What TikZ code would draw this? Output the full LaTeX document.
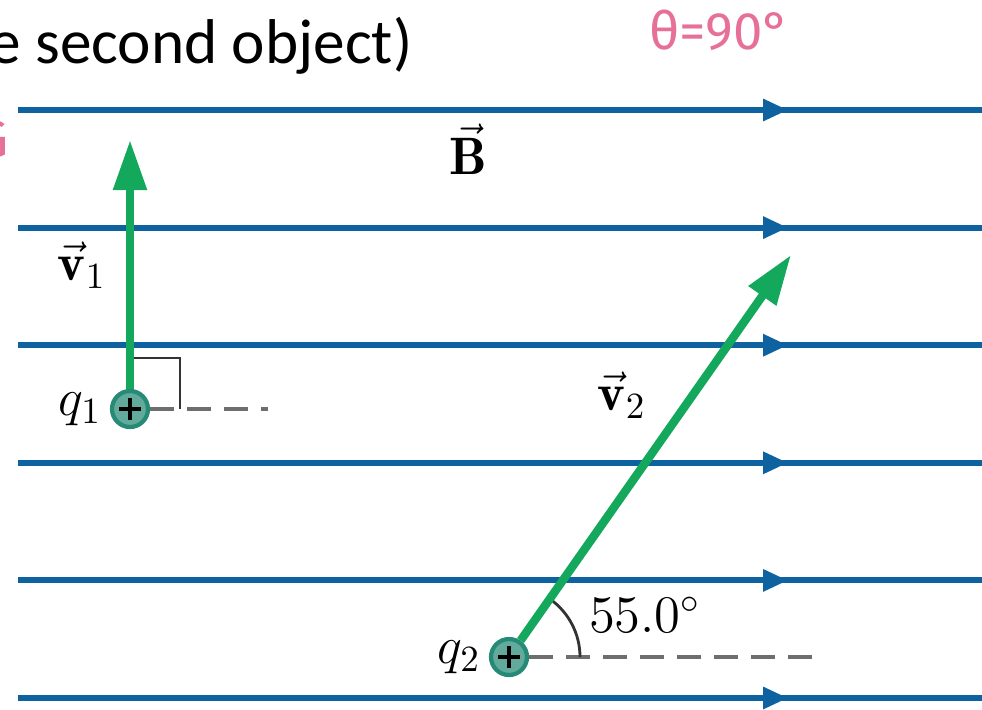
\RequirePackage{fix-cm}
\documentclass[tikz,border=0pt]{standalone}
\usepackage{fontspec}
\usepackage{amsmath,bm}
\usepackage{xcolor}
\usetikzlibrary{arrows.meta}
\usetikzlibrary{positioning}
\newfontfamily\calibri{Carlito}
\newfontfamily\hand{Fira Sans}
\definecolor{fieldblue}{RGB}{14,98,160}
\definecolor{velgreen}{RGB}{20,168,92}
\definecolor{chargefill}{RGB}{98,170,156}
\definecolor{chargeedge}{RGB}{38,138,118}
\definecolor{guidegray}{RGB}{110,110,110}
\definecolor{inkpink}{RGB}{230,112,152}

\begin{document}
\begin{tikzpicture}[
  field/.style={line width=1.7pt,fieldblue},
  vel/.style={line width=2.4pt,velgreen,-{Triangle[length=0.5cm,width=0.32cm]}},
  charge/.style={circle,draw=chargeedge,fill=chargefill,line width=1.2pt,
    minimum size=0.36cm,inner sep=0pt,
    path picture={\draw[black,line width=1.3pt]
      (path picture bounding box.center) +(-0.11,0) -- +(0.11,0)
      (path picture bounding box.center) +(0,-0.11) -- +(0,0.11);}},
  lbl/.style={font=\fontsize{15}{18}\selectfont,inner sep=1pt},
  guide/.style={guidegray,line width=0.9pt,dash pattern=on 0.24cm off 0.13cm},
  angmark/.style={black!80,line width=0.8pt},
  ink/.style={inkpink,font=\hand\fontsize{15}{17}\selectfont,inner sep=0pt}
]
  \useasboundingbox (0,0) rectangle (9.82,7.09);

  % field lines of B
  \foreach \k in {0,...,5} {
    \coordinate (L\k) at (0.18,{0.11+1.176*\k});
    \coordinate (M\k) at (7.88,{0.11+1.176*\k});
    \coordinate (R\k) at (9.82,{0.11+1.176*\k});
    \draw[field] (L\k) -- (R\k);
    \draw[field,-{Triangle[length=0.25cm,width=0.21cm]}] (L\k) -- (M\k);
  }

  % charges
  \node[charge] (q1) at (1.30,3.00) {};
  \node[charge] (q2) at (5.09,0.52) {};
  \coordinate (v1tip) at (1.30,5.69);
  \coordinate (v2tip) at (7.91,4.54);
  \coordinate (g1end) at (2.68,3.00);
  \coordinate (g2end) at (8.20,0.52);
  \coordinate (rc) at (1.80,3.51);
  \coordinate (a2) at (5.80,0.52);

  \draw[guide] (q1.east) -- (g1end);
  \draw[guide] (q2.east) -- (g2end);
  \draw[angmark] (q1 |- rc) -- (rc) -- (rc |- q1.center);
  \draw[angmark] (a2) arc[start angle=0,end angle=55,radius=0.71];

  \draw[vel] (q1.north) -- (v1tip);
  \draw[vel] (q2) -- (v2tip);

  % labels
  \node[lbl,left=0.04cm of q1] (lq1) {$q_1$};
  \node[lbl,left=0.04cm of q2] (lq2) {$q_2$};
  \node[lbl] (lv1) at (0.82,4.44) {$\vec{\mathbf{v}}_1$};
  \node[lbl] (lv2) at (6.22,3.14) {$\vec{\mathbf{v}}_2$};
  \node[lbl] (lB) at (4.68,5.60) {$\vec{\mathbf{B}}$};
  \node[lbl] (lang) at (6.45,0.94) {$55.0^\circ$};

  % slide text and handwriting
  \node[anchor=base east,inner sep=0pt,font=\calibri\fontsize{18}{22}\selectfont]
    (title) at (4.13,6.46) {e second object)};
  \node[ink] (theta) at (7.20,6.79) {θ=90°};
  \node[ink,anchor=east] (scrib) at (0.09,5.70) {G};
\end{tikzpicture}
\end{document}
